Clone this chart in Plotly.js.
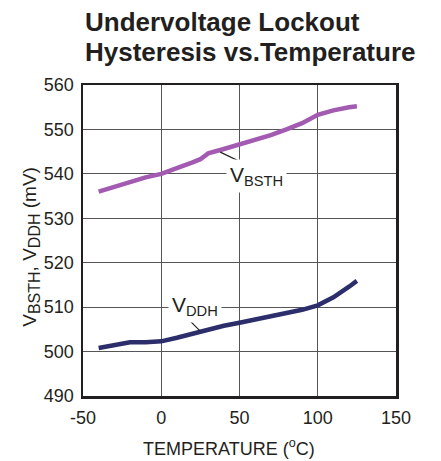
<!DOCTYPE html>
<html><head><meta charset="utf-8">
<script src="https://cdn.plot.ly/plotly-3.0.1.min.js"></script>
<style>html,body{margin:0;padding:0;background:#fff;}#chart{width:441px;height:461px;}</style>
</head><body><div id="chart"></div>
<script>
const temperature = [-40,-30,-20,-10,0,10,20,25,30,40,50,60,70,80,90,100,110,120,125];
const vbsth = [536.0,537.1,538.3,539.2,540.0,541.2,542.6,543.3,544.6,545.6,546.6,547.7,548.7,550.0,551.4,553.3,554.3,555.0,555.2];
const vddh  = [500.8,501.5,502.1,502.1,502.3,503.1,504.0,504.4,505.0,505.8,506.5,507.2,507.8,508.6,509.4,510.4,512.2,514.6,515.9];
const xTicks = [-50,0,50,100,150];
const yTicks = [490,500,510,520,530,540,550,560];
const titleLines = ['Undervoltage Lockout','Hysteresis vs.Temperature'];
const labelBSTH = {text:'V<sub>BSTH</sub>', x:61, y:539.6, from:[54.9,542.0], to:[37.7,544.9]};
const labelDDH  = {text:'V<sub>DDH</sub>', x:21.5, y:510.2, from:[9.6,510.0], to:[24.9,504.6]};

const ink = '#231f20';
const font = 'Liberation Sans, Arial, sans-serif';

const traces = [
  {x:temperature, y:vbsth, mode:'lines', line:{color:'#a35bb2', width:4.5}, hoverinfo:'skip'},
  {x:temperature, y:vddh, mode:'lines', line:{color:'#2c2d6b', width:4.5}, hoverinfo:'skip'}
];

function leader(l){
  return {type:'line', xref:'x', yref:'y', x0:l.from[0], y0:l.from[1], x1:l.to[0], y1:l.to[1], line:{color:ink, width:1.2}};
}
function label(l){
  return {xref:'x', yref:'y', x:l.x, y:l.y, text:l.text, showarrow:false, bgcolor:'#fff', borderpad:3,
          font:{family:font, size:21, color:ink}};
}
const subBig = s => '<sub><span style="font-size:16px">' + s + '</span></sub>';

const layout = {
  width:441, height:461,
  margin:{l:83, r:45, t:85, b:65},
  paper_bgcolor:'#fff', plot_bgcolor:'#fff',
  showlegend:false,
  xaxis:{range:[-50,150], tickvals:xTicks, ticktext:xTicks.map(String), showgrid:true, gridcolor:'#555', gridwidth:1,
         showline:true, mirror:true, linecolor:ink, linewidth:2.5, ticks:'', zeroline:false, ticklabelstandoff:4,
         tickfont:{family:font, size:18, color:ink}},
  yaxis:{range:[490,560], tickvals:yTicks, ticktext:yTicks.map(String), showgrid:true, gridcolor:'#555', gridwidth:1,
         showline:true, mirror:true, linecolor:ink, linewidth:2.5, ticks:'', zeroline:false, ticklabelstandoff:3,
         tickfont:{family:font, size:18, color:ink}},
  shapes:[leader(labelBSTH), leader(labelDDH)],
  annotations:[
    label(labelBSTH), label(labelDDH),
    {xref:'paper', yref:'paper', x:0, y:1.2026, xanchor:'left', yanchor:'middle', showarrow:false,
     text:'<b>'+titleLines[0]+'</b>', font:{family:font, size:26, color:ink}},
    {xref:'paper', yref:'paper', x:0, y:1.1077, xanchor:'left', yanchor:'middle', showarrow:false,
     text:'<b>'+titleLines[1]+'</b>', font:{family:font, size:26, color:ink}},
    {xref:'paper', yref:'paper', x:-0.166, y:0.48, xanchor:'center', yanchor:'middle', textangle:-90, showarrow:false,
     text:'V'+subBig('BSTH')+', V'+subBig('DDH')+' (mV)', font:{family:font, size:19, color:ink}},
    {xref:'paper', yref:'paper', x:0.466, y:-0.164, xanchor:'center', yanchor:'middle', showarrow:false,
     text:'TEMPERATURE (<sup>o</sup>C)', font:{family:font, size:18, color:ink}}
  ]
};
Plotly.newPlot('chart', traces, layout, {staticPlot:true, displayModeBar:false});
</script></body></html>
